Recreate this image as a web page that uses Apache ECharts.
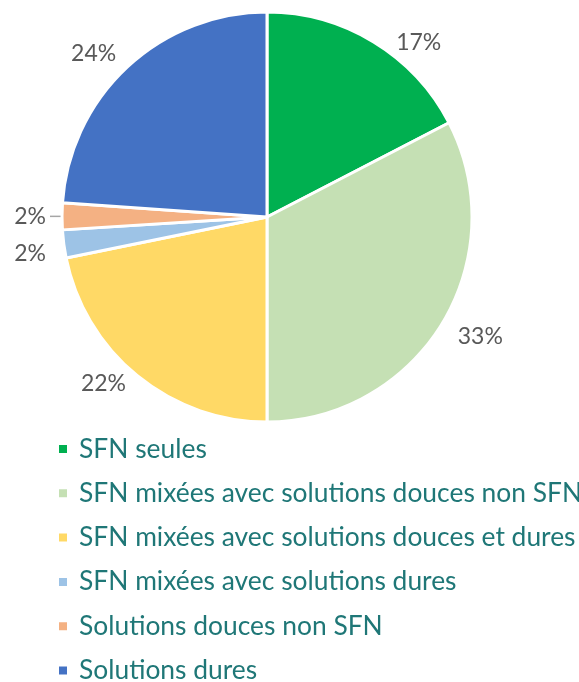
<!DOCTYPE html>
<html>
<head>
<meta charset="utf-8">
<script src="https://cdn.jsdelivr.net/npm/echarts@6/dist/echarts.min.js"></script>
<style>
  html, body { margin: 0; padding: 0; background: #fff; }
  #chart { width: 579px; height: 682px; }
</style>
</head>
<body>
<div id="chart"></div>
<script>
const categories = [
  'SFN seules',
  'SFN mixées avec solutions douces non SFN',
  'SFN mixées avec solutions douces et dures',
  'SFN mixées avec solutions dures',
  'Solutions douces non SFN',
  'Solutions dures'
];
const values = [17.4, 32.6, 21.8, 2.2, 2.1, 23.9];
const colors = ['#00B050', '#C5E0B4', '#FFD966', '#9DC3E6', '#F4B183', '#4472C4'];

// small nudges so labels sit where the original placed them
const labelNudge = { 0: [28, 29], 1: [10, -4], 2: [-13, -18], 3: [-1, 5], 5: [-11, 11] };

const font = 'Lato';
const center = [267, 217];

const chart = echarts.init(document.getElementById('chart'), null, { renderer: 'canvas' });

const mainData = categories.map((name, i) => ({
  name: name,
  value: values[i],
  itemStyle: { color: colors[i] },
  label: { show: i === 4 },
  labelLine: { show: i === 4 }
}));

const ringData = categories.map((name, i) => ({
  name: name,
  value: values[i],
  label: { show: i !== 4, offset: labelNudge[i] || [0, 0] }
}));

chart.setOption({
  backgroundColor: '#fff',
  animation: false,
  color: colors,
  legend: {
    orient: 'vertical',
    left: 57,
    top: 436,
    height: 260,
    padding: 0,
    icon: 'rect',
    itemWidth: 10,
    itemHeight: 10,
    itemGap: 18.3,
    data: categories,
    selectedMode: false,
    textStyle: {
      color: '#1F7777',
      fontFamily: font,
      fontSize: 26.4,
      lineHeight: 24,
      padding: [0, 0, 0, 6]
    }
  },
  series: [
    {
      type: 'pie',
      center: center,
      radius: [0, 205],
      startAngle: 90,
      clockwise: true,
      silent: true,
      itemStyle: { borderColor: '#fff', borderWidth: 3 },
      label: {
        position: 'outside',
        formatter: p => Math.round(p.value) + '%',
        color: '#595959',
        fontFamily: font,
        fontSize: 23,
        distanceToLabelLine: 4
      },
      labelLine: {
        length: 0,
        length2: 12,
        lineStyle: { color: '#A6A6A6', width: 1.5 }
      },
      data: mainData
    },
    {
      type: 'pie',
      center: center,
      radius: [226, 244],
      startAngle: 90,
      clockwise: true,
      silent: true,
      itemStyle: { color: 'rgba(0,0,0,0)' },
      label: {
        position: 'inside',
        formatter: p => Math.round(p.value) + '%',
        color: '#595959',
        fontFamily: font,
        fontSize: 23
      },
      labelLine: { show: false },
      data: ringData
    }
  ]
});
</script>
</body>
</html>
